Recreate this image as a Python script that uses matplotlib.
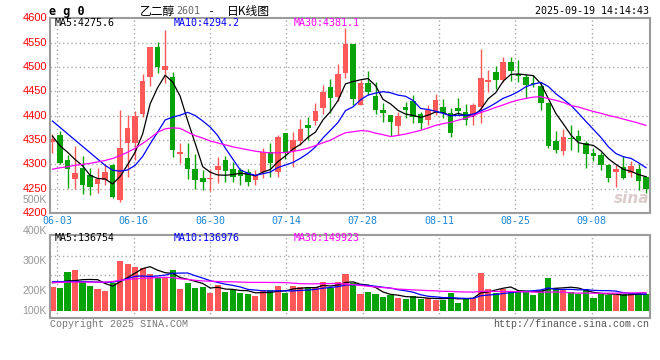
import numpy as np
import pandas as pd
import matplotlib
matplotlib.use("Agg")
import matplotlib.pyplot as plt

# eg2601 daily candles, 05-30 .. 09-19 (80 sessions)
open_ = [4345, 4360, 4309, 4269, 4293, 4278, 4259, 4268, 4299, 4227,
         4344, 4343, 4403, 4480, 4541, 4494, 4480, 4321, 4314, 4290,
         4271, 4270, 4288, 4309, 4290, 4288, 4285, 4268, 4284, 4325,
         4285, 4364, 4327, 4348, 4381, 4389, 4416, 4460, 4439, 4487,
         4547, 4423, 4467, 4441, 4412, 4401, 4379, 4418, 4430, 4403,
         4391, 4408, 4418, 4405, 4415, 4407, 4403, 4417, 4470, 4489,
         4473, 4510, 4485, 4480, 4466, 4462, 4427, 4347, 4327, 4355,
         4359, 4343, 4323, 4319, 4299, 4285, 4295, 4282, 4290, 4275]
high = [4362, 4369, 4320, 4338, 4317, 4292, 4293, 4301, 4300, 4412,
        4401, 4410, 4485, 4542, 4552, 4576, 4489, 4343, 4343, 4321,
        4288, 4290, 4316, 4318, 4305, 4292, 4290, 4288, 4333, 4343,
        4360, 4364, 4366, 4393, 4398, 4427, 4463, 4475, 4506, 4580,
        4548, 4473, 4492, 4469, 4427, 4402, 4407, 4429, 4443, 4407,
        4423, 4445, 4434, 4415, 4436, 4425, 4427, 4538, 4494, 4503,
        4521, 4521, 4515, 4485, 4484, 4470, 4428, 4369, 4373, 4380,
        4371, 4347, 4333, 4325, 4300, 4299, 4318, 4307, 4300, 4276]
low = [4323, 4300, 4252, 4249, 4240, 4237, 4241, 4258, 4230, 4222,
       4275, 4309, 4398, 4462, 4487, 4467, 4316, 4302, 4270, 4250,
       4247, 4245, 4261, 4264, 4264, 4258, 4256, 4258, 4271, 4275,
       4275, 4312, 4295, 4340, 4350, 4381, 4403, 4405, 4430, 4478,
       4423, 4421, 4443, 4404, 4388, 4359, 4360, 4395, 4384, 4373,
       4381, 4401, 4395, 4357, 4401, 4381, 4381, 4384, 4449, 4455,
       4469, 4471, 4470, 4437, 4460, 4412, 4333, 4323, 4319, 4330,
       4325, 4293, 4306, 4288, 4263, 4254, 4270, 4273, 4247, 4242]
close = [4352, 4303, 4290, 4283, 4258, 4254, 4270, 4285, 4232, 4334,
         4375, 4399, 4472, 4542, 4501, 4502, 4329, 4325, 4290, 4268,
         4264, 4272, 4297, 4287, 4275, 4277, 4264, 4279, 4325, 4302,
         4357, 4323, 4350, 4373, 4375, 4410, 4449, 4436, 4485, 4547,
         4434, 4467, 4449, 4412, 4405, 4388, 4400, 4412, 4398, 4384,
         4412, 4432, 4405, 4365, 4410, 4391, 4423, 4477, 4473, 4473,
         4510, 4491, 4482, 4464, 4465, 4427, 4338, 4329, 4356, 4352,
         4348, 4321, 4318, 4299, 4271, 4290, 4271, 4297, 4266, 4249]
# volume in K, read against the printed K labels
volume = [214, 210, 264, 270, 228, 217, 207, 200, 225, 301,
          289, 281, 277, 256, 242, 247, 270, 206, 227, 208,
          211, 193, 219, 197, 202, 193, 189, 183, 202, 202,
          216, 193, 216, 214, 214, 214, 230, 208, 230, 256,
          225, 189, 196, 189, 179, 186, 175, 172, 182, 172,
          174, 169, 169, 191, 160, 176, 176, 261, 206, 193,
          206, 197, 199, 199, 186, 202, 244, 210, 206, 197,
          188, 206, 176, 188, 186, 186, 188, 186, 193, 188]

# moving averages at the left edge (history before the window is not shown)
ma5_head = [4358, 4338, 4325, 4310]
ma10_head = [4389, 4376, 4363, 4350, 4337, 4324, 4311, 4298, 4288]
ma30_head = [4290, 4293, 4295, 4298, 4300, 4302, 4305, 4308, 4312, 4318,
             4325, 4333, 4343, 4354, 4366, 4373, 4375, 4374, 4366, 4359,
             4354, 4348, 4344, 4340, 4336, 4333, 4330, 4327, 4325]
vma5_head = [227, 229, 233, 234]
vma10_head = [230, 230, 231, 231, 231, 230, 229, 228, 229]
vma30_head = [227, 228, 229, 229, 229, 229, 229, 229, 231, 235,
              238, 240, 242, 243, 244, 245, 244, 240, 238, 235,
              233, 232, 231, 230, 230, 229, 228, 228, 228]

date_labels = ["06-03", "06-16", "06-30", "07-14", "07-28", "08-11", "08-25", "09-08"]
price_ticks = [4200, 4250, 4300, 4350, 4400, 4450, 4500, 4550, 4600]
vol_labels = ["500K", "400K", "300K", "200K", "100K"]


def with_head(values, n, head):
    out = pd.Series(values, dtype=float).rolling(n).mean().to_numpy()
    out[:len(head)] = head
    return out


RED = "#ff5858"
GREEN = "#08a308"
FRAME = "#9c9c9c"
GRID = "#aaaaaa"
DATEC = "#1a86d6"

W, H = 660, 360
fig = plt.figure(figsize=(W / 100, H / 100), dpi=100)
fig.patch.set_facecolor("white")


def px(x, y):
    return x / W, 1 - y / H


ax = fig.add_axes([50 / W, 1 - 213 / H, 600 / W, 194.6 / H])
vax = fig.add_axes([50 / W, 1 - 317.7 / H, 600 / W, 83 / H])

x = np.arange(len(close))
o = np.array(open_, float)
c = np.array(close, float)
up = c >= o
cols = np.where(up, RED, GREEN)
grid_x = 0.64 + 10.16 * np.arange(len(date_labels))

# ---- price panel
ax.vlines(x, low, high, colors=cols, lw=1, zorder=2)
body = np.maximum(np.abs(c - o), 1.6)
ax.bar(x, body, bottom=np.minimum(o, c), width=0.74, color=cols, lw=0, zorder=2)
ax.plot(x, with_head(close, 5, ma5_head), color="black", lw=0.9, zorder=3)
ax.plot(x, with_head(close, 10, ma10_head), color="#0000ff", lw=0.9, zorder=3)
ax.plot(x, with_head(close, 30, ma30_head), color="#ff00ff", lw=0.9, zorder=3)
ax.set_xlim(-0.33, 79.53)
ax.set_ylim(4200, 4600)
ax.set_yticks(price_ticks)
ax.set_yticklabels([str(t) for t in price_ticks], color="#ff0000",
                   fontsize=8, family="Liberation Sans")
ax.set_xticks(grid_x)
ax.set_xticklabels(date_labels, color=DATEC, fontsize=7.2, family="DejaVu Sans Mono")
ax.tick_params(length=0, pad=2.2)
for t in ax.get_yticklabels():
    t.set_verticalalignment("center")
for v in price_ticks[1:-1]:
    ax.axhline(v, color=GRID, lw=1, ls=(0, (1, 2)), zorder=1)
for g in grid_x:
    ax.axvline(g, color=GRID, lw=1, ls=(0, (1, 2)), zorder=1)

# ---- volume panel
vcols = cols
vax.bar(x, np.array(volume) - 132.7, bottom=132.7, width=0.82, color=vcols, lw=0, zorder=2)
vax.plot(x, with_head(volume, 5, vma5_head), color="black", lw=0.9, zorder=3)
vax.plot(x, with_head(volume, 10, vma10_head), color="#0000ff", lw=0.9, zorder=3)
vax.plot(x, with_head(volume, 30, vma30_head), color="#ff00ff", lw=0.9, zorder=3)
vax.set_xlim(-0.33, 79.53)
vax.set_ylim(109.1, 388.6)
vax.set_xticks([])
vax.set_yticks([])
for v in [252, 318]:
    vax.axhline(v, color=GRID, lw=1, ls=(0, (1, 2)), zorder=1)
for g in grid_x:
    vax.axvline(g, color=GRID, lw=1, ls=(0, (1, 2)), zorder=1)

for a in (ax, vax):
    for s in a.spines.values():
        s.set_color(FRAME)
        s.set_linewidth(1.5)

mono = "DejaVu Sans Mono"
cjk = ["Noto Sans CJK SC", "DejaVu Sans"]

# title row
fig.text(*px(49, 11), "e g 0", fontsize=8.5, fontweight="bold", family=mono, va="center")
fig.text(*px(140, 11), "乙二醇", fontsize=8.5, family=cjk, va="center")
fig.text(*px(176, 11.5), "2601", fontsize=7.2, family=mono, color="#666666", va="center")
fig.text(*px(207, 11), "-", fontsize=8, family=mono, va="center")
fig.text(*px(227, 11), "日K线图", fontsize=8.5, family=cjk, va="center")
fig.text(*px(649, 11), "2025-09-19 14:14:43", fontsize=7.2, family=mono, ha="right", va="center")

# MA legends
fig.text(*px(55, 23), "MA5:4275.6", fontsize=7.2, family=mono, color="black", va="center")
fig.text(*px(174, 23), "MA10:4294.2", fontsize=7.2, family=mono, color="#0000ff", va="center")
fig.text(*px(294, 23), "MA30:4381.1", fontsize=7.2, family=mono, color="#ff00ff", va="center")
fig.text(*px(55, 238), "MA5:136754", fontsize=7.2, family=mono, color="black", va="center")
fig.text(*px(174, 238), "MA10:136976", fontsize=7.2, family=mono, color="#0000ff", va="center")
fig.text(*px(294, 238), "MA30:149923", fontsize=7.2, family=mono, color="#ff00ff", va="center")

# volume scale labels
for lab, yy in zip(vol_labels, [200, 231, 261, 290.7, 310.7]):
    fig.text(*px(47, yy), lab, fontsize=7.6, family="Liberation Sans", color="#999999",
             ha="right", va="center")

# footer
fig.text(*px(50, 324), "Copyright 2025 SINA.COM", fontsize=7.2, family="Liberation Mono",
         color="#777777", va="center")
fig.text(*px(649, 324), "http://finance.sina.com.cn", fontsize=7.2, family="Liberation Mono",
         color="#555555", ha="right", va="center")

# watermark
fig.text(*px(632, 198), "sina", fontsize=11, fontweight="bold", style="italic",
         color="#d9c6c6", ha="center", va="center", alpha=0.9)

fig.savefig("out.png", dpi=100)
